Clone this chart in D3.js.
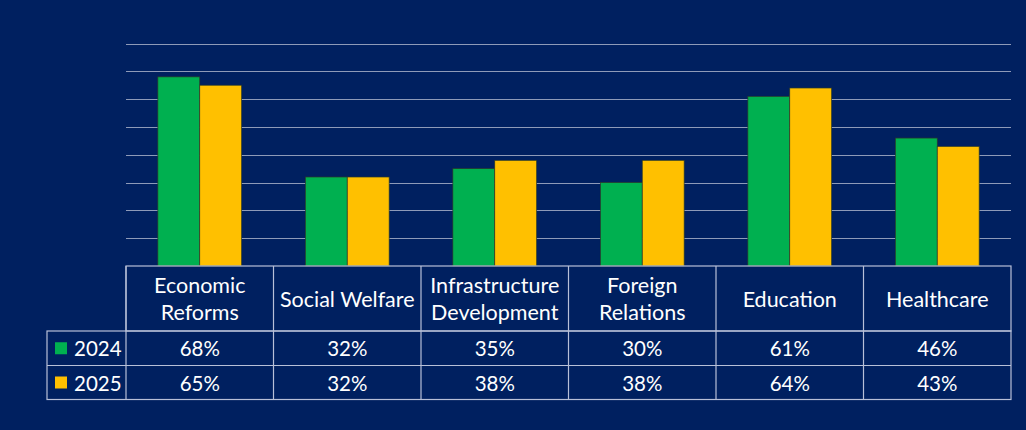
<!DOCTYPE html>
<html><head><meta charset="utf-8">
<script src="https://cdn.jsdelivr.net/npm/d3@7"></script>
<style>
html,body{margin:0;padding:0;background:#002060;}
svg{display:block;}
text{font-family:Lato, "Open Sans", sans-serif;fill:#fff;}
</style></head>
<body>
<script>
const categories = ["Economic Reforms","Social Welfare","Infrastructure Development","Foreign Relations","Education","Healthcare"];
const headerLines = [["Economic","Reforms"],["Social Welfare"],["Infrastructure","Development"],["Foreign","Relations"],["Education"],["Healthcare"]];
const seriesNames = ["2024","2025"];
const values2024 = [68,32,35,30,61,46];
const values2025 = [65,32,38,38,64,43];
const yTicks = [10,20,30,40,50,60,70,80];
const colors = ["#00B050","#FFC000"];

const W=1026,H=430;
const plotL=126, plotR=1011, baseY=266, topY=43.5;
const svg=d3.select("body").append("svg").attr("width",W).attr("height",H);
svg.append("rect").attr("width",W).attr("height",H).attr("fill","#002060");

const x=d3.scaleBand().domain(categories).range([plotL,plotR]);
const y=d3.scaleLinear().domain([0,80]).range([baseY,topY]);
const inner=d3.scaleBand().domain(seriesNames).range([0,x.bandwidth()]).paddingOuter(0.76).paddingInner(0);

// gridlines
svg.append("g").selectAll("line").data(yTicks).join("line")
 .attr("x1",plotL).attr("x2",plotR)
 .attr("y1",d=>Math.round(y(d))+0.5).attr("y2",d=>Math.round(y(d))+0.5)
 .attr("stroke","#8e9ab8").attr("stroke-width",1);

const series=[values2024,values2025];
series.forEach((vals,si)=>{
  svg.append("g").selectAll("rect").data(vals).join("rect")
   .attr("x",(d,i)=>x(categories[i])+inner(seriesNames[si]))
   .attr("y",d=>y(d))
   .attr("width",inner.bandwidth())
   .attr("height",d=>baseY-y(d))
   .attr("fill",colors[si])
   .attr("stroke","#2a3a2a").attr("stroke-width",0.7);
});

// table
const tableL=47, hdrTop=266, row1=331, row2=365.5, bottom=399.5;
const tb=svg.append("g").attr("stroke","#b8c0d8").attr("stroke-width",1.2).attr("fill","none");
tb.append("rect").attr("x",plotL).attr("y",hdrTop).attr("width",plotR-plotL).attr("height",row1-hdrTop);
tb.append("rect").attr("x",tableL).attr("y",row1).attr("width",plotR-tableL).attr("height",bottom-row1);
tb.append("line").attr("x1",tableL).attr("x2",plotR).attr("y1",row2).attr("y2",row2);
categories.forEach((c,i)=>{
  const xx=x(c);
  tb.append("line").attr("x1",xx).attr("x2",xx).attr("y1",hdrTop).attr("y2",bottom);
});

// header text
const hfs=21.5, fs=20.5;
categories.forEach((c,i)=>{
  const cx=x(c)+x.bandwidth()/2;
  const lines=headerLines[i];
  const midY=(hdrTop+row1)/2;
  lines.forEach((ln,k)=>{
    const yy=midY+(k-(lines.length-1)/2)*27.5;
    svg.append("text").attr("x",cx).attr("y",yy).attr("text-anchor","middle")
      .attr("dominant-baseline","central").attr("font-size",hfs).text(ln);
  });
});
const rowYs=[(row1+row2)/2,(row2+bottom)/2];
series.forEach((vals,si)=>{
  vals.forEach((v,i)=>{
    svg.append("text").attr("x",x(categories[i])+x.bandwidth()/2).attr("y",rowYs[si])
      .attr("text-anchor","middle").attr("dominant-baseline","central").attr("font-size",fs).text(v+"%");
  });
  svg.append("rect").attr("x",55).attr("y",rowYs[si]-6).attr("width",12).attr("height",12).attr("fill",colors[si]);
  svg.append("text").attr("x",74).attr("y",rowYs[si]).attr("dominant-baseline","central").attr("font-size",fs).text(seriesNames[si]);
});
</script>
</body></html>
